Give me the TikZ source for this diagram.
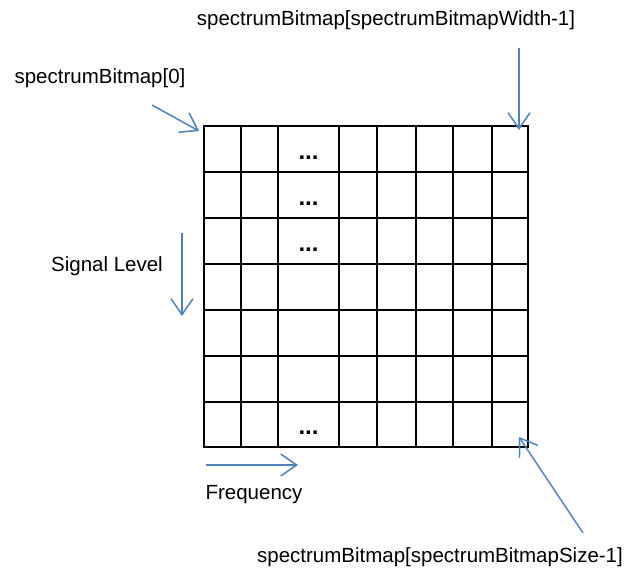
\documentclass[tikz,border=0pt]{standalone}
\usepackage{fontspec}
\setmainfont{Liberation Sans}
\usetikzlibrary{arrows.meta}
\definecolor{arrowblue}{RGB}{79,129,189}
\tikzset{
  lbl/.style={font=\fontsize{20.5}{24}\selectfont,inner sep=0pt},
  dotsbox/.style={font=\fontsize{24}{24}\selectfont\bfseries,inner sep=0pt},
  pointer/.style={draw=arrowblue,line width=1.5pt,-{Straight Barb[length=16pt,width=22pt]}},
  gridline/.style={line width=2pt,line cap=rect}
}
\begin{document}
\begin{tikzpicture}[x=1pt,y=-1pt]
\useasboundingbox (0,0) rectangle (632,573);
% bitmap cells
\foreach \x in {204,241,278,339,377,416,453,492,528}
  \draw[gridline] (\x,126)--(\x,447);
\foreach \y in {126,172,218,264,310,356,402,447}
  \draw[gridline] (204,\y)--(528,\y);
\node[dotsbox] (dotsa) at (308.5,158) {...};
\node[dotsbox] (dotsb) at (308.5,204) {...};
\node[dotsbox] (dotsc) at (308.5,250) {...};
\node[dotsbox] (dotsd) at (308.5,433) {...};
% labels
\node[lbl] (first) at (100,78) {spectrumBitmap[0]};
\node[lbl] (width) at (386,20) {spectrumBitmap[spectrumBitmapWidth-1]};
\node[lbl] (level) at (107,266) {Signal Level};
\node[lbl] (freq) at (254,495) {Frequency};
\node[lbl] (size) at (440,557) {spectrumBitmap[spectrumBitmapSize-1]};
% arrow ends
\coordinate (firstA) at (152,105);
\coordinate (firstB) at (199,131);
\coordinate (widthA) at (519,48);
\coordinate (widthB) at (519,130);
\coordinate (levelA) at (182,233);
\coordinate (levelB) at (182,316);
\coordinate (freqA) at (206,465);
\coordinate (freqB) at (298,465);
\coordinate (sizeA) at (583,533);
\coordinate (sizeB) at (519,437);
\draw[pointer] (firstA)--(firstB);
\draw[pointer] (widthA)--(widthB);
\draw[pointer] (levelA)--(levelB);
\draw[pointer] (freqA)--(freqB);
\draw[pointer] (sizeA)--(sizeB);
\end{tikzpicture}
\end{document}
